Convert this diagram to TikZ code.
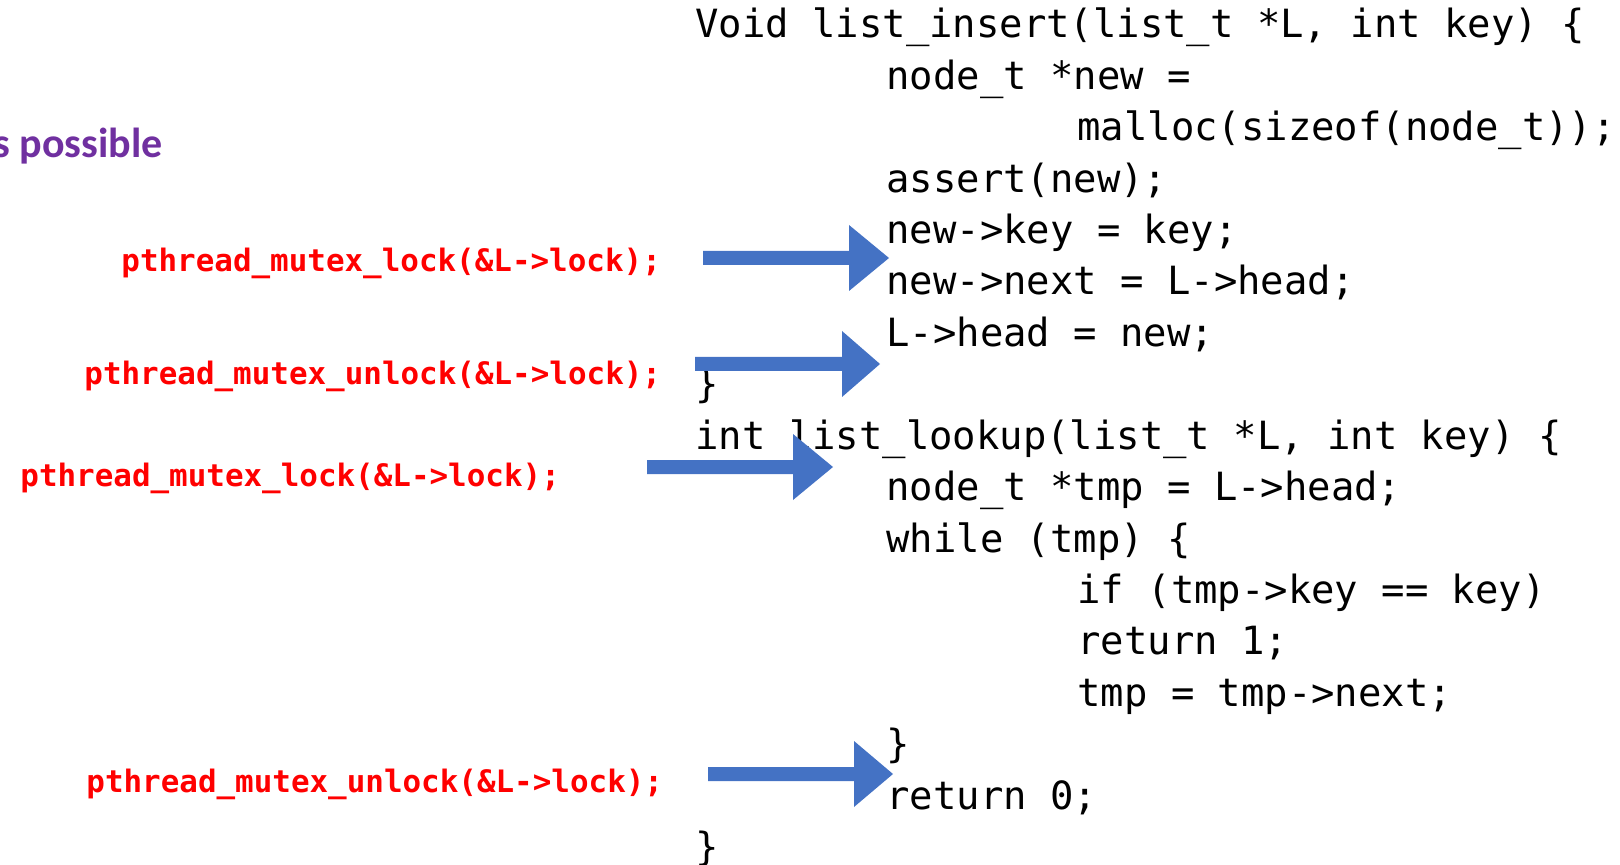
\documentclass[tikz,border=0pt]{standalone}
\usepackage{fontspec}
\newfontfamily\codefont{DejaVu Sans Mono}
\newfontfamily\titlefont{Carlito}
\definecolor{arrowblue}{HTML}{4472C4}
\definecolor{lockred}{HTML}{FF0000}
\definecolor{notepurple}{HTML}{7030A0}
\newcommand\blockarr[5]{% name, x0, xbase, xtip, y
  \fill[arrowblue] (#2,#5-7) coordinate (#1-tail) -- (#3,#5-7) -- (#3,#5-33) -- (#4,#5) coordinate (#1-tip) -- (#3,#5+33) -- (#3,#5+7) -- (#2,#5+7) -- cycle;}
\tikzset{
  codeline/.style={anchor=base west, inner sep=0pt, font=\codefont\fontsize{19.44}{24}\selectfont, text=black},
  locktext/.style={anchor=base west, inner sep=0pt, font=\codefont\bfseries\fontsize{15.45}{19}\selectfont, text=lockred},
  notetext/.style={anchor=base west, inner sep=0pt, font=\titlefont\bfseries\fontsize{21}{25}\selectfont, text=notepurple}
}
\begin{document}
\begin{tikzpicture}[x=0.5pt,y=-0.5pt]
\useasboundingbox (0,0) rectangle (1620,865);
% purple note (cut at left edge)
\node[notetext] (note) at (-7,158) {s possible};
% code
\def\ia{695}\def\ib{886}\def\ic{1077}
\node[codeline] (c0)  at (\ia,38.0)   {Void list\_insert(list\_t *L, int key) \{};
\node[codeline] (c1)  at (\ib,89.4)   {node\_t *new =};
\node[codeline] (c2)  at (\ic,140.8)  {malloc(sizeof(node\_t));};
\node[codeline] (c3)  at (\ib,192.2)  {assert(new);};
\node[codeline] (c4)  at (\ib,243.6)  {new->key = key;};
\node[codeline] (c5)  at (\ib,295.0)  {new->next = L->head;};
\node[codeline] (c6)  at (\ib,346.4)  {L->head = new;};
\node[codeline] (c7)  at (\ia,397.8)  {\}};
\node[codeline] (c8)  at (\ia,449.2)  {int list\_lookup(list\_t *L, int key) \{};
\node[codeline] (c9)  at (\ib,500.6)  {node\_t *tmp = L->head;};
\node[codeline] (c10) at (\ib,552.0)  {while (tmp) \{};
\node[codeline] (c11) at (\ic,603.4)  {if (tmp->key == key)};
\node[codeline] (c12) at (\ic,654.8)  {return 1;};
\node[codeline] (c13) at (\ic,706.2)  {tmp = tmp->next;};
\node[codeline] (c14) at (\ib,757.6)  {\}};
\node[codeline] (c15) at (\ib,809.0)  {return 0;};
\node[codeline] (c16) at (\ia,860.4)  {\}};
% lock calls
\node[locktext] (l1) at (121,272) {pthread\_mutex\_lock(\&L->lock);};
\node[locktext] (l2) at (84,385)  {pthread\_mutex\_unlock(\&L->lock);};
\node[locktext] (l3) at (20,487)  {pthread\_mutex\_lock(\&L->lock);};
\node[locktext] (l4) at (86,792)  {pthread\_mutex\_unlock(\&L->lock);};
% block arrows
\blockarr{a1}{703}{849}{889}{258}
\blockarr{a2}{695}{842}{880}{364}
\blockarr{a3}{647}{793}{833}{467}
\blockarr{a4}{708}{854}{893}{774}
\end{tikzpicture}
\end{document}
